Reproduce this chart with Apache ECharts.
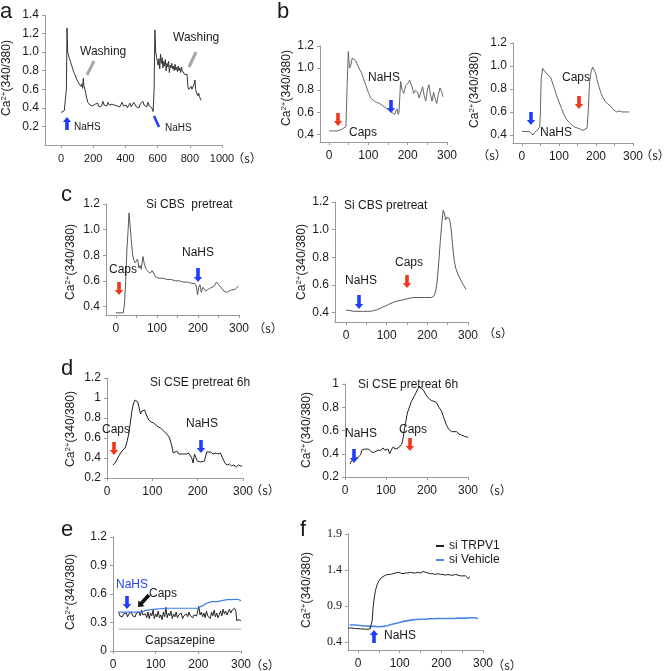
<!DOCTYPE html>
<html>
<head>
<meta charset="utf-8">
<script src="https://cdn.jsdelivr.net/npm/echarts@6/dist/echarts.min.js"></script>
<style>
  html, body { margin: 0; padding: 0; background: #fff; }
  #chart { width: 664px; height: 671px; }
</style>
</head>
<body>
<div id="chart"></div>
<script>
// ---- values ----
// panel a
const aTime = [0, 10, 20, 28, 33, 37, 41, 46, 52, 58, 65, 72, 80, 88, 96, 104, 112, 118, 124, 130, 134, 138, 142, 148, 154, 160, 166, 172,
  180, 188, 196, 204, 212, 220, 228, 236, 244, 252, 260, 268, 276, 284, 292, 300, 308, 316, 324, 332, 340, 348, 356, 364, 372, 380,
  388, 396, 404, 412, 420, 428, 436, 444, 452, 460, 468, 476, 484, 492, 500, 508, 516, 524, 532, 540, 548, 556, 564, 572,
  578, 583, 588, 593, 598, 603, 608, 613, 618, 623, 628, 633, 638, 643, 648, 653, 658, 663, 668, 673, 678, 683, 688, 693, 698,
  703, 708, 713, 718, 723, 728, 733, 738, 743, 748, 753, 758, 763, 768, 773, 778, 783, 788, 793, 798, 803, 808, 813, 818, 823,
  828, 832, 836, 840, 845, 850, 855, 860, 865, 870];
const aRatio = [0.35, 0.34, 0.37, 0.36, 0.6, 1.26, 1.0, 0.97, 0.93, 0.9, 0.86, 0.82, 0.78, 0.75, 0.71, 0.69, 0.66, 0.68, 0.63, 0.66, 0.61, 0.72, 0.64, 0.6, 0.55, 0.5, 0.46, 0.44,
  0.43, 0.45, 0.42, 0.41, 0.44, 0.42, 0.45, 0.41, 0.43, 0.42, 0.47, 0.43, 0.44, 0.42, 0.46, 0.43, 0.41, 0.44, 0.42, 0.43, 0.45, 0.42, 0.44, 0.41, 0.43, 0.46,
  0.42, 0.44, 0.43, 0.4, 0.42, 0.45, 0.41, 0.43, 0.46, 0.44, 0.41, 0.43, 0.4, 0.44, 0.42, 0.47, 0.43, 0.45, 0.41, 0.46, 0.42, 0.44, 0.4, 0.36,
  0.6, 1.24, 1.0, 0.95, 0.9, 0.86, 0.93, 0.82, 0.98, 0.88, 0.94, 0.83, 0.9, 0.85, 0.92, 0.8, 0.88, 0.84, 0.9, 0.78, 0.86, 0.83, 0.88, 0.82, 0.85,
  0.8, 0.87, 0.81, 0.84, 0.79, 0.85, 0.8, 0.83, 0.78, 0.84, 0.8, 0.82, 0.79, 0.76, 0.77, 0.74, 0.76, 0.63, 0.6, 0.62, 0.6, 0.63, 0.6, 0.58, 0.62,
  0.66, 0.7, 0.6, 0.57, 0.55, 0.53, 0.56, 0.52, 0.5, 0.48];

// panel b, left (Caps then NaHS)
const bLeftTime = [0, 10, 20, 28, 35, 40, 43, 46, 49, 52, 55, 59, 63, 67, 71, 76, 82, 88, 94, 100, 106, 112, 120, 128, 136, 144, 152, 158, 163, 167,
  170, 173, 176, 178, 182, 186, 190, 195, 200, 205, 208, 212, 215, 220, 225, 229, 233, 238, 242, 246, 250, 254, 258, 262, 266, 270, 274, 278, 282, 286, 290];
const bLeftRatio = [0.43, 0.43, 0.43, 0.44, 0.45, 0.46, 0.47, 0.85, 1.15, 1.0, 1.02, 1.09, 1.1, 1.07, 1.06, 1.0, 0.96, 0.9, 0.84, 0.78, 0.73, 0.71, 0.69, 0.68, 0.66, 0.64, 0.62, 0.6, 0.59, 0.58,
  0.61, 0.63, 0.58, 0.6, 0.88, 0.8, 0.77, 0.84, 0.86, 0.89, 0.9, 0.82, 0.77, 0.8, 0.78, 0.73, 0.72, 0.83, 0.75, 0.7, 0.8, 0.85, 0.76, 0.7, 0.78, 0.72, 0.68, 0.76, 0.82, 0.79, 0.74];

// panel b, right (NaHS then Caps)
const bRightTime = [0, 10, 20, 25, 30, 34, 39, 44, 48, 50, 52, 56, 60, 64, 68, 73, 78, 82, 87, 93, 100, 107, 113, 120, 127, 134, 142, 150, 158, 165,
  170, 176, 179, 183, 187, 191, 195, 199, 203, 208, 213, 218, 225, 232, 240, 247, 252, 256, 262, 270, 280, 290];
const bRightRatio = [0.43, 0.43, 0.43, 0.42, 0.4, 0.42, 0.43, 0.45, 0.47, 0.6, 0.88, 0.98, 0.96, 0.95, 0.93, 0.92, 0.9, 0.86, 0.81, 0.75, 0.69, 0.63, 0.58, 0.54, 0.51, 0.49, 0.47, 0.46, 0.45, 0.44,
  0.44, 0.46, 0.6, 0.87, 0.95, 0.99, 0.98, 0.94, 0.88, 0.82, 0.77, 0.73, 0.69, 0.67, 0.65, 0.62, 0.62, 0.6, 0.61, 0.6, 0.6, 0.6];

// panel c, left (Si CBS: Caps then NaHS)
const cLeftTime = [0, 10, 18, 21, 24, 27, 30, 32, 35, 38, 41, 44, 47, 50, 53, 56, 59, 62, 66, 70, 74, 79, 84, 88, 92, 97, 105, 115, 125, 135,
  145, 155, 165, 175, 185, 192, 196, 199, 202, 205, 208, 212, 216, 219, 223, 228, 234, 240, 245, 249, 253, 258, 263, 270, 276, 282, 288, 293, 298];
const cLeftRatio = [0.35, 0.35, 0.35, 0.42, 0.6, 0.85, 1.0, 1.13, 1.02, 0.9, 0.8, 0.76, 0.74, 0.75, 0.77, 0.7, 0.72, 0.69, 0.79, 0.72, 0.69, 0.67, 0.66, 0.68, 0.66, 0.63, 0.62, 0.62, 0.61, 0.61,
  0.6, 0.6, 0.59, 0.59, 0.58, 0.58, 0.56, 0.49, 0.55, 0.57, 0.51, 0.55, 0.56, 0.52, 0.53, 0.54, 0.55, 0.56, 0.59, 0.58, 0.56, 0.54, 0.52, 0.51, 0.52, 0.53, 0.53, 0.54, 0.56];

// panel c, right (Si CBS: NaHS then Caps)
const cRightTime = [0, 20, 40, 60, 75, 90, 105, 120, 135, 150, 165, 180, 195, 210, 216, 220, 224, 228, 232, 236, 239, 242, 245, 248, 251, 254, 257, 260, 263, 266, 270, 275, 280, 287, 295];
const cRightRatio = [0.42, 0.41, 0.41, 0.41, 0.42, 0.44, 0.46, 0.48, 0.49, 0.5, 0.51, 0.51, 0.51, 0.51, 0.52, 0.55, 0.62, 0.76, 0.92, 1.06, 1.14, 1.12, 1.07, 1.09, 1.1, 1.08, 1.04, 0.96, 0.86, 0.78, 0.72, 0.68, 0.65, 0.61, 0.57];

// panel d, left (Si CSE: Caps then NaHS)
const dLeftTime = [13, 18, 22, 26, 30, 35, 40, 44, 48, 52, 55, 58, 62, 65, 68, 71, 74, 77, 80, 83, 86, 89, 92, 97, 103, 110, 118, 125, 132, 137,
  140, 143, 146, 150, 154, 158, 162, 166, 170, 175, 180, 184, 187, 190, 193, 196, 199, 203, 207, 211, 215, 218, 220, 224, 229, 234, 240, 245, 250, 254,
  257, 260, 265, 270, 275, 280, 285, 290, 295, 298];
const dLeftRatio = [0.33, 0.35, 0.37, 0.42, 0.45, 0.48, 0.5, 0.56, 0.64, 0.77, 0.87, 0.94, 0.98, 0.98, 0.96, 0.9, 0.84, 0.87, 0.89, 0.88, 0.84, 0.82, 0.78, 0.76, 0.75, 0.72, 0.7, 0.67, 0.64, 0.61,
  0.57, 0.52, 0.45, 0.44, 0.47, 0.44, 0.46, 0.44, 0.46, 0.44, 0.45, 0.44, 0.4, 0.35, 0.44, 0.45, 0.37, 0.35, 0.36, 0.34, 0.37, 0.35, 0.46, 0.45, 0.46, 0.44, 0.45, 0.44, 0.45, 0.47,
  0.38, 0.35, 0.33, 0.34, 0.32, 0.33, 0.31, 0.33, 0.32, 0.32];

// panel d, right (Si CSE: NaHS then Caps)
const dRightTime = [12, 16, 19, 24, 28, 32, 35, 38, 41, 47, 53, 58, 63, 69, 75, 81, 87, 93, 97, 101, 105, 109, 114, 118, 122, 126, 130, 134, 138, 141,
  144, 148, 152, 157, 162, 168, 174, 178, 182, 186, 191, 197, 203, 210, 217, 223, 229, 235, 241, 247, 253, 260, 266, 272, 278, 284, 292, 300];
const dRightRatio = [0.31, 0.34, 0.35, 0.36, 0.37, 0.37, 0.36, 0.39, 0.43, 0.44, 0.44, 0.44, 0.42, 0.41, 0.42, 0.43, 0.43, 0.45, 0.43, 0.42, 0.44, 0.4, 0.44, 0.46, 0.44, 0.43, 0.45, 0.46, 0.48, 0.52,
  0.59, 0.67, 0.75, 0.8, 0.85, 0.89, 0.93, 0.96, 0.98, 0.96, 0.95, 0.91, 0.88, 0.86, 0.85, 0.84, 0.8, 0.77, 0.71, 0.65, 0.61, 0.59, 0.59, 0.59, 0.57, 0.56, 0.55, 0.54];

// panel e (capsazepine)
const eNahsTime = [13, 30, 50, 64, 80, 100, 126, 150, 173, 190, 200, 206, 212, 218, 224, 232, 244, 256, 267, 278, 290, 295, 300];
const eNahsRatio = [0.41, 0.41, 0.41, 0.41, 0.43, 0.44, 0.45, 0.45, 0.45, 0.45, 0.45, 0.47, 0.48, 0.5, 0.51, 0.52, 0.52, 0.53, 0.54, 0.54, 0.545, 0.54, 0.53];
const eCapsTime = [13, 16, 19, 22, 25, 28, 31, 34, 37, 40, 43, 46, 49, 52, 55, 58, 61, 64, 67, 70, 73, 76, 79, 82, 85, 88, 91, 94, 97, 100,
  103, 106, 109, 112, 115, 118, 121, 124, 127, 130, 133, 136, 139, 142, 145, 148, 151, 154, 157, 160, 163, 166, 169, 172, 175, 178, 181, 184, 187, 190,
  193, 196, 199, 201, 204, 207, 210, 213, 216, 219, 222, 225, 228, 231, 234, 237, 240, 243, 246, 249, 252, 255, 258, 261, 264, 267, 270, 273, 276, 279,
  282, 285, 288, 290, 295, 300];
const eCapsRatio = [0.41, 0.37, 0.39, 0.36, 0.39, 0.37, 0.4, 0.36, 0.39, 0.38, 0.41, 0.37, 0.39, 0.36, 0.4, 0.38, 0.41, 0.37, 0.43, 0.38, 0.36, 0.39, 0.35, 0.41, 0.34, 0.4, 0.37, 0.43, 0.34, 0.39,
  0.36, 0.42, 0.35, 0.38, 0.33, 0.41, 0.36, 0.46, 0.35, 0.4, 0.37, 0.42, 0.34, 0.39, 0.36, 0.41, 0.35, 0.38, 0.36, 0.4, 0.34, 0.37, 0.35, 0.39, 0.36, 0.41, 0.37, 0.39, 0.35, 0.38,
  0.36, 0.37, 0.35, 0.47, 0.38, 0.41, 0.36, 0.4, 0.35, 0.42, 0.37, 0.39, 0.34, 0.41, 0.37, 0.43, 0.36, 0.4, 0.35, 0.38, 0.42, 0.37, 0.44, 0.39, 0.42, 0.38, 0.41, 0.44, 0.4, 0.43,
  0.41, 0.45, 0.42, 0.32, 0.33, 0.32];
const eBlockTime = [13, 300];
const eBlockLevel = [0.23, 0.23];

// panel f (siRNA)
const fTrpv1Time = [-24, -18, -12, -6, 0, 6, 12, 18, 24, 29, 32, 34, 36, 39, 42, 46, 50, 55, 60, 66, 72, 78, 84, 90, 96, 102, 108, 114, 120, 126,
  132, 138, 144, 150, 156, 162, 168, 174, 180, 186, 192, 198, 204, 210, 216, 222, 228, 234, 240, 246, 252, 258, 262, 265, 268];
const fTrpv1Ratio = [0.59, 0.6, 0.595, 0.59, 0.59, 0.585, 0.585, 0.58, 0.58, 0.585, 0.59, 0.7, 0.87, 1.02, 1.12, 1.2, 1.25, 1.29, 1.31, 1.33, 1.34, 1.34, 1.35, 1.36, 1.37, 1.36, 1.35, 1.36, 1.36, 1.37,
  1.36, 1.36, 1.37, 1.36, 1.38, 1.37, 1.36, 1.35, 1.35, 1.34, 1.35, 1.34, 1.34, 1.33, 1.34, 1.33, 1.33, 1.34, 1.33, 1.32, 1.32, 1.32, 1.31, 1.28, 1.31];
const fVehicleTime = [-20, -10, 0, 10, 20, 30, 40, 50, 60, 70, 80, 90, 100, 110, 120, 130, 140, 150, 160, 170, 180, 190, 200, 210, 220, 230, 240, 250, 260, 270, 280, 288];
const fVehicleRatio = [0.64, 0.64, 0.635, 0.63, 0.625, 0.62, 0.62, 0.615, 0.62, 0.63, 0.645, 0.66, 0.675, 0.69, 0.7, 0.71, 0.715, 0.72, 0.72, 0.725, 0.725, 0.73, 0.73, 0.73, 0.73, 0.73, 0.735, 0.735, 0.735, 0.74, 0.74, 0.73];

// tick values
const xTicks1000 = [0, 200, 400, 600, 800, 1000];
const xTicks50 = [0, 50, 100, 150, 200, 250, 300];
const xTicks100 = [0, 100, 200, 300];
const yTicksA = [0.2, 0.4, 0.6, 0.8, 1.0, 1.2, 1.4];
const yTicksBC = [0.4, 0.6, 0.8, 1.0, 1.2];
const yTicksD1 = [0.2, 0.4, 0.6, 0.8, 1, 1.2];
const yTicksD2 = [0.2, 0.4, 0.6, 0.8, 1];
const yTicksE = [0, 0.3, 0.6, 0.9, 1.2];
const yTicksF = [0.4, 0.9, 1.4, 1.9];

// ---- layout ----
const SANS = 'Liberation Sans, Arial, sans-serif';
const SERIF = 'Liberation Serif, Times New Roman, serif';
const CJK = 'Noto Sans CJK SC, sans-serif';
const AXIS = '#9a9a9a';
const INK = '#1a1a1a';
const BLUE = '#1f3cff';
const RED = '#f2361c';

const fix1 = v => v.toFixed(1);
const plain = v => String(v);

const panels = [
  { grid: [45, 15, 177, 130], x: [-100, 1000, xTicks1000, xTicks1000, 11], y: [0, 1.4, yTicksA, fix1, SANS] },
  { grid: [320, 46, 127, 96], x: [-23, 300, xTicks50, xTicks100, 12], y: [0.33, 1.2, yTicksBC, fix1, SANS] },
  { grid: [513, 43, 120, 100], x: [-24, 300, xTicks50, xTicks100, 12], y: [0.33, 1.2, yTicksBC, fix1, SANS] },
  { grid: [106, 204, 133, 111], x: [-24, 300, xTicks50, xTicks100, 12], y: [0.333, 1.2, yTicksBC, fix1, SANS] },
  { grid: [335, 202, 133, 120], x: [-27, 300, xTicks50, xTicks100, 12], y: [0.333, 1.2, yTicksBC, fix1, SANS] },
  { grid: [107, 378, 136, 100], x: [0, 300, xTicks100, xTicks100, 12], y: [0.2, 1.2, yTicksD1, plain, SANS] },
  { grid: [345, 384, 123, 93], x: [0, 300, xTicks100, xTicks100, 12], y: [0.2, 1.0, yTicksD2, plain, SANS] },
  { grid: [113, 537, 128, 114], x: [0, 300, xTicks100, xTicks100, 12], y: [0, 1.2, yTicksE, plain, SANS] },
  { grid: [348, 534, 135, 116], x: [-24, 300, xTicks50, xTicks100, 12], y: [0.293, 1.9, yTicksF, plain, SERIF] }
];

const grids = [], xAxes = [], yAxes = [];
panels.forEach(p => {
  const [l, t, w, h] = p.grid;
  grids.push({ left: l, top: t, width: w, height: h, containLabel: false, outerBoundsMode: 'none' });
  xAxes.push({
    type: 'value', gridIndex: grids.length - 1, min: p.x[0], max: p.x[1],
    axisLine: { show: true, onZero: false, lineStyle: { color: AXIS, width: 1 } },
    axisTick: { show: true, length: 3, customValues: p.x[2], lineStyle: { color: AXIS } },
    axisLabel: { customValues: p.x[3], formatter: plain, margin: 8, color: INK, fontSize: p.x[4], fontFamily: SANS, showMinLabel: true, showMaxLabel: true },
    splitLine: { show: false }
  });
  yAxes.push({
    type: 'value', gridIndex: grids.length - 1, min: p.y[0], max: p.y[1],
    axisLine: { show: true, onZero: false, lineStyle: { color: AXIS, width: 1 } },
    axisTick: { show: true, length: 3, customValues: p.y[2], lineStyle: { color: AXIS } },
    axisLabel: { customValues: p.y[2], formatter: p.y[3], margin: 6, color: INK, fontSize: 12, fontFamily: p.y[4], showMinLabel: true, showMaxLabel: true },
    splitLine: { show: false }
  });
});

const zip = (xs, ys) => xs.map((x, i) => [x, ys[i]]);
const trace = (idx, xs, ys, color, width, name) => ({
  type: 'line', name: name, xAxisIndex: idx, yAxisIndex: idx, data: zip(xs, ys),
  showSymbol: false, symbol: 'none', color: color,
  lineStyle: { color: color, width: width || 1 }, emphasis: { disabled: true }, silent: true
});

const series = [
  trace(0, aTime, aRatio, '#333333', 1),
  trace(1, bLeftTime, bLeftRatio, '#666666', 1),
  trace(2, bRightTime, bRightRatio, '#666666', 1),
  trace(3, cLeftTime, cLeftRatio, '#5a5a5a', 1),
  trace(4, cRightTime, cRightRatio, '#5a5a5a', 1),
  trace(5, dLeftTime, dLeftRatio, '#222222', 1),
  trace(6, dRightTime, dRightRatio, '#222222', 1),
  trace(7, eBlockTime, eBlockLevel, '#a8a8a8', 1),
  trace(7, eCapsTime, eCapsRatio, '#222222', 1),
  trace(7, eNahsTime, eNahsRatio, '#3f7be8', 1.2),
  trace(8, fVehicleTime, fVehicleRatio, '#4a88e6', 1.6, 'si Vehicle'),
  trace(8, fTrpv1Time, fTrpv1Ratio, '#222222', 1, 'si TRPV1')
];

// ---- annotations ----
function arrow(tail, tip, color) {
  const dx = tip[0] - tail[0], dy = tip[1] - tail[1], L = Math.hypot(dx, dy);
  const ux = dx / L, uy = dy / L, nx = -uy, ny = ux;
  const hw = 1.8, hh = 4.2, hl = 5;
  const nk = [tip[0] - ux * hl, tip[1] - uy * hl];
  const pt = (b, k) => [b[0] + nx * k, b[1] + ny * k];
  return {
    type: 'polygon', z: 100, silent: true,
    shape: { points: [pt(tail, hw), pt(nk, hw), pt(nk, hh), tip, pt(nk, -hh), pt(nk, -hw), pt(tail, -hw)] },
    style: { fill: color }
  };
}
function label(x, y, text, size, color, align, font) {
  return {
    type: 'text', x: x, y: y, z: 100, silent: true,
    style: { text: text, fontSize: size || 12, fontFamily: font || SANS, fill: color || INK, align: align || 'left', verticalAlign: 'middle' }
  };
}
// the "(s)" unit sits a little low in the CJK font, so lift it
function unit(x, y) {
  return label(x, y - 2, '（s）', 12, INK, 'center', CJK);
}
function yTitle(x, y) {
  return {
    type: 'text', x: x, y: y, rotation: Math.PI / 2, z: 100, silent: true,
    style: {
      text: '{n|Ca}{s|2+}{n|(340/380)}', align: 'center', verticalAlign: 'middle', fill: INK,
      rich: {
        n: { fontSize: 12, fontFamily: SANS, fill: INK, lineHeight: 14 },
        s: { fontSize: 8, fontFamily: SANS, fill: INK, verticalAlign: 'top', lineHeight: 14 }
      }
    }
  };
}
function seg(x1, y1, x2, y2, color, w) {
  return { type: 'line', z: 100, silent: true, shape: { x1: x1, y1: y1, x2: x2, y2: y2 }, style: { stroke: color, lineWidth: w } };
}

const graphics = [
  // panel letters
  label(0, 12, 'a', 22), label(277, 12, 'b', 22), label(61, 195, 'c', 22),
  label(61, 369, 'd', 22), label(61, 530, 'e', 22), label(300, 530, 'f', 22),
  // axis titles
  yTitle(7, 78), yTitle(287, 88), yTitle(475, 90), yTitle(71, 262), yTitle(302, 262),
  yTitle(71, 429), yTitle(307, 430), yTitle(71, 592), yTitle(307, 590),
  // unit labels
  unit(247, 160), unit(492, 157), unit(655, 157), unit(268, 330), unit(498, 335),
  unit(265, 492), unit(497, 492), unit(265, 667), unit(507, 667),
  // a
  label(80, 52, 'Washing', 12), label(173, 38, 'Washing', 12),
  seg(94, 61, 87, 75, '#a6a6a6', 3), seg(196, 52, 189, 67, '#a6a6a6', 3),
  arrow([67, 130], [67, 117], BLUE), label(74, 127, 'NaHS', 10),
  seg(154, 116, 159, 127, BLUE, 2.5), label(165, 128, 'NaHS', 10),
  // b left
  arrow([338, 113], [338, 126], RED), label(349, 133, 'Caps', 12),
  label(368, 78, 'NaHS', 12), arrow([391, 100], [391, 113], BLUE),
  // b right
  arrow([531, 112], [531, 125], BLUE), label(540, 133, 'NaHS', 12),
  label(562, 78, 'Caps', 12), arrow([579, 96], [579, 109], RED),
  // c left
  label(146, 205, 'Si CBS  pretreat', 12), label(182, 253, 'NaHS', 12), arrow([198, 268], [198, 282], BLUE),
  label(109, 270, 'Caps', 12), arrow([119, 282], [119, 295], RED),
  // c right
  label(344, 206, 'Si CBS pretreat', 12), label(345, 281, 'NaHS', 12), arrow([359, 295], [359, 309], BLUE),
  label(395, 263, 'Caps', 12), arrow([407, 275], [407, 288], RED),
  // d left
  label(150, 383, 'Si CSE pretreat 6h', 12), label(186, 424, 'NaHS', 12), arrow([201, 440], [201, 453], BLUE),
  label(102, 430, 'Caps', 12), arrow([114, 442], [114, 455], RED),
  // d right
  label(358, 385, 'Si CSE pretreat 6h', 12), label(345, 434, 'NaHS', 12), arrow([354, 449], [354, 463], BLUE),
  label(399, 430, 'Caps', 12), arrow([410, 438], [410, 451], RED),
  // e
  label(116, 585, 'NaHS', 12, '#2a44f0'), arrow([127, 596], [127, 609], BLUE),
  arrow([149, 595], [138, 607], '#111111'), label(149, 594, 'Caps', 12),
  label(145, 641, 'Capsazepine', 12),
  // f
  label(384, 636, 'NaHS', 12), arrow([374, 643], [374, 630], BLUE)
];

const chart = echarts.init(document.getElementById('chart'), null, { renderer: 'canvas' });
chart.setOption({
  animation: false,
  backgroundColor: '#ffffff',
  grid: grids,
  xAxis: xAxes,
  yAxis: yAxes,
  legend: {
    data: ['si TRPV1', 'si Vehicle'], orient: 'vertical', left: 431, top: 535,
    itemWidth: 8, itemHeight: 2, itemGap: 2, icon: 'rect', selectedMode: false,
    textStyle: { fontSize: 12, color: INK, fontFamily: SANS }
  },
  series: series,
  graphic: graphics
});
</script>
</body>
</html>
